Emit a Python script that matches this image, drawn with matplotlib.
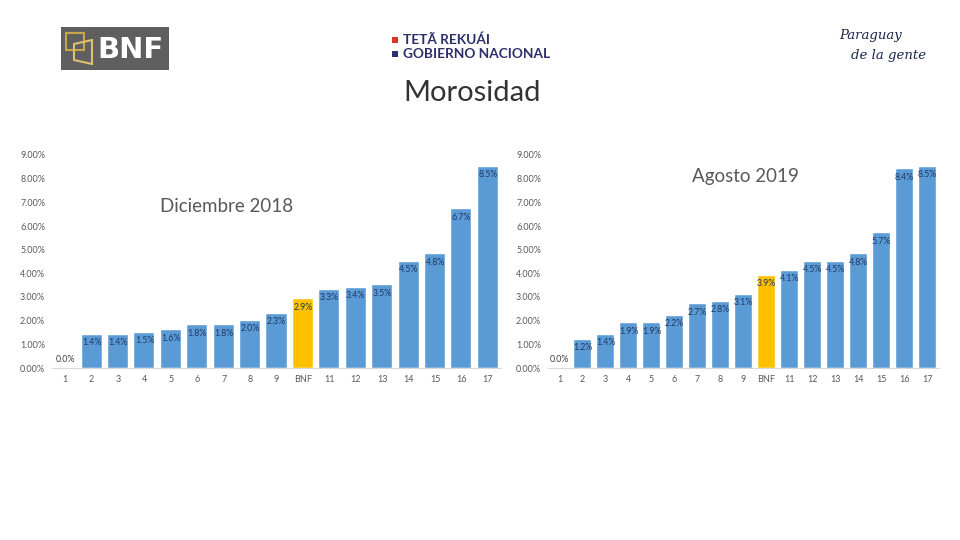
import matplotlib.pyplot as plt
from matplotlib.patches import Rectangle, Polygon

plt.rcParams['font.family'] = ['Lato', 'DejaVu Sans']

categories = ["1", "2", "3", "4", "5", "6", "7", "8", "9", "BNF",
              "11", "12", "13", "14", "15", "16", "17"]
dic_2018 = [0.0, 1.4, 1.4, 1.5, 1.6, 1.8, 1.8, 2.0, 2.3, 2.9,
            3.3, 3.4, 3.5, 4.5, 4.8, 6.7, 8.5]
ago_2019 = [0.0, 1.2, 1.4, 1.9, 1.9, 2.2, 2.7, 2.8, 3.1, 3.9,
            4.1, 4.5, 4.5, 4.8, 5.7, 8.4, 8.5]
y_ticks = [0, 1, 2, 3, 4, 5, 6, 7, 8, 9]

BLUE = "#5b9bd5"
GOLD = "#ffc000"
W, H = 960, 540


def px(x0, y0, x1, y1):
    # pixel box (top-left origin) -> figure fraction rect
    return [x0 / W, 1 - y1 / H, (x1 - x0) / W, (y1 - y0) / H]


def draw_panel(ax, values, title, title_xy):
    colors = [GOLD if c == "BNF" else BLUE for c in categories]
    xs = range(len(categories))
    ax.bar(xs, values, width=0.76, color=colors, edgecolor="white", linewidth=0.3)
    for x, v in zip(xs, values):
        if v == 0:
            ax.annotate(f"{v:.1f}%", (x, v), xytext=(0, 3), textcoords="offset points",
                        ha="center", va="bottom", fontsize=6.3, color="#404040")
        else:
            ax.annotate(f"{v:.1f}%", (x, v), xytext=(0, -2.5), textcoords="offset points",
                        ha="center", va="top", fontsize=6.3, color="#203864")
    ax.set_xlim(-0.5, len(categories) - 0.5)
    ax.set_ylim(0, 9)
    ax.set_yticks(y_ticks)
    ax.set_yticklabels([f"{t:.2f}%" for t in y_ticks])
    ax.set_xticks(list(xs))
    ax.set_xticklabels(categories)
    ax.tick_params(axis="both", length=0, labelsize=6.5, labelcolor="#595959")
    ax.tick_params(axis="y", pad=5)
    ax.tick_params(axis="x", pad=5)
    for side in ("top", "right", "left"):
        ax.spines[side].set_visible(False)
    ax.spines["bottom"].set_color("#d9d9d9")
    ax.spines["bottom"].set_linewidth(0.8)
    ax.patch.set_alpha(0)
    fig.text(title_xy[0] / W, 1 - title_xy[1] / H, title, ha="center", va="center",
             fontsize=13.5, color="#595959")


fig = plt.figure(figsize=(9.6, 5.4), dpi=100)
fig.patch.set_facecolor("white")

ax1 = fig.add_axes(px(52, 155, 501, 368))
draw_panel(ax1, dic_2018, "Diciembre 2018", (227, 207))

ax2 = fig.add_axes(px(548, 155, 939, 368))
draw_panel(ax2, ago_2019, "Agosto 2019", (745, 177))

fig.text(472 / W, 1 - 93 / H, "Morosidad", ha="center", va="center",
         fontsize=21, color="#333333")

# header logos
fig.add_artist(Rectangle((61 / W, 1 - 70 / H), 108 / W, 43 / H,
                         transform=fig.transFigure, facecolor="#5f5f5f", edgecolor="none"))
fig.add_artist(Polygon([(66 / W, 1 - 33 / H), (84 / W, 1 - 33 / H), (84 / W, 1 - 50 / H),
                        (66 / W, 1 - 50 / H)], closed=True, transform=fig.transFigure,
                       facecolor="none", edgecolor="#c9a54a", linewidth=1.5))
fig.add_artist(Polygon([(74 / W, 1 - 44 / H), (92 / W, 1 - 40 / H), (92 / W, 1 - 64 / H),
                        (74 / W, 1 - 60 / H)], closed=True, transform=fig.transFigure,
                       facecolor="none", edgecolor="#e0c070", linewidth=1.5))
fig.text(131 / W, 1 - 50 / H, "BNF", ha="center", va="center", fontsize=21,
         color="white", fontweight="bold", family=["DejaVu Sans"])

fig.add_artist(Rectangle((392 / W, 1 - 43 / H), 6 / W, 6 / H, transform=fig.transFigure,
                         facecolor="#d9342b", edgecolor="none"))
fig.add_artist(Rectangle((392 / W, 1 - 57 / H), 6 / W, 6 / H, transform=fig.transFigure,
                         facecolor="#2d2f6b", edgecolor="none"))
fig.text(403 / W, 1 - 40 / H, "TETÃ REKUÁI", ha="left", va="center", fontsize=9.8,
         color="#2d2f6b", fontweight="bold")
fig.text(403 / W, 1 - 54 / H, "GOBIERNO NACIONAL", ha="left", va="center", fontsize=9.8,
         color="#2d2f6b", fontweight="bold")

fig.text(871 / W, 1 - 35 / H, "Paraguay", ha="center", va="center", fontsize=9.5,
         color="#1c2650", style="italic", family=["DejaVu Serif"])
fig.text(889 / W, 1 - 56 / H, "de la gente", ha="center", va="center", fontsize=9.5,
         color="#1c2650", style="italic", family=["DejaVu Serif"])

fig.savefig("out.png", dpi=100)
